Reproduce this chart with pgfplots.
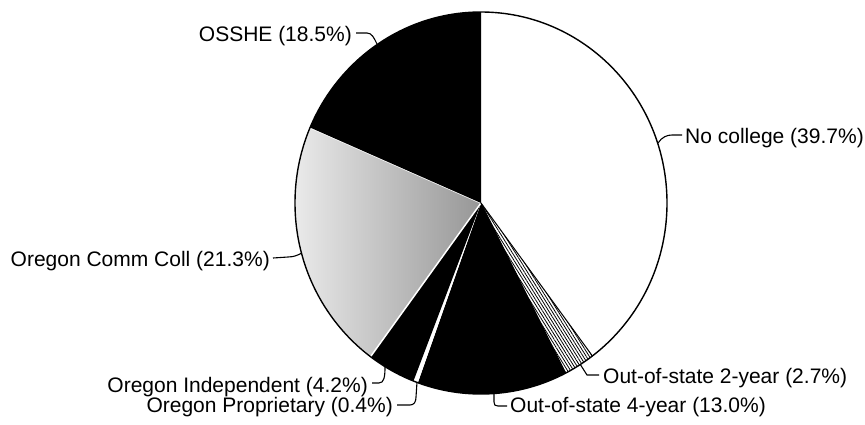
\documentclass[border=0pt]{standalone}
\usepackage{pgfplots}
\pgfplotsset{compat=1.18}
\usepackage{pgfplotstable}
\usepackage{fontspec}
\setmainfont{Liberation Sans}
\usetikzlibrary{patterns.meta}

\pgfplotstableread{
value
39.7
2.7
13.0
0.4
4.2
21.3
18.5
}\piedata

\newcommand\pieslice[3]{\path[#3] (axis cs:481,221) -- ++(#1:186pt and 191pt) arc[start angle=#1, end angle=#2, x radius=186pt, y radius=191pt] -- cycle;}

\begin{document}
\begin{tikzpicture}
\fontsize{21}{25}\selectfont
\pgfplotstablegetelem{0}{value}\of\piedata \pgfmathsetmacro\vA{\pgfplotsretval}
\pgfplotstablegetelem{1}{value}\of\piedata \pgfmathsetmacro\vB{\pgfplotsretval}
\pgfplotstablegetelem{2}{value}\of\piedata \pgfmathsetmacro\vC{\pgfplotsretval}
\pgfplotstablegetelem{3}{value}\of\piedata \pgfmathsetmacro\vD{\pgfplotsretval}
\pgfplotstablegetelem{4}{value}\of\piedata \pgfmathsetmacro\vE{\pgfplotsretval}
\pgfplotstablegetelem{5}{value}\of\piedata \pgfmathsetmacro\vF{\pgfplotsretval}
\pgfplotstablegetelem{6}{value}\of\piedata \pgfmathsetmacro\vG{\pgfplotsretval}
\pgfmathsetmacro\tot{\vA+\vB+\vC+\vD+\vE+\vF+\vG}
\pgfmathsetmacro\aA{90}
\pgfmathsetmacro\aB{\aA-360*\vA/\tot}
\pgfmathsetmacro\aC{\aB-360*\vB/\tot}
\pgfmathsetmacro\aD{\aC-360*\vC/\tot}
\pgfmathsetmacro\aE{\aD-360*\vD/\tot}
\pgfmathsetmacro\aF{\aE-360*\vE/\tot}
\pgfmathsetmacro\aG{\aF-360*\vF/\tot}
\pgfmathsetmacro\aH{\aG-360*\vG/\tot}
\begin{axis}[hide axis, scale only axis, width=865pt, height=424pt,
  xmin=0, xmax=865, ymin=0, ymax=424, clip=false, at={(0,0)}, anchor=south west]
\addplot[draw=none] coordinates {(0,0) (865,424)};
% slices
\pieslice{\aA}{\aB}{fill=white}
\pieslice{\aB}{\aC}{preaction={fill=white}, pattern={Lines[angle=-58, distance=2.6pt, line width=0.8pt]}}
\pieslice{\aC}{\aD}{fill=black}
\pieslice{\aD}{\aE}{fill=white}
\pieslice{\aE}{\aF}{fill=black}
\pieslice{\aF}{\aG}{left color=gray!10, right color=gray!82, draw=white, line width=1.5pt}
\pieslice{\aG}{\aH}{fill=black}
\draw[line width=1pt] (axis cs:481,221) -- ++(\aB:186pt and 191pt);
\draw[line width=1pt] (axis cs:481,221) -- ++(\aC:186pt and 191pt);
\draw[line width=1.4pt] (axis cs:481,221) ellipse [x radius=186pt, y radius=191pt];
% labels
\node[anchor=east, inner sep=0pt] at (axis cs:352,388) {OSSHE (18.5\%)};
\node[anchor=west, inner sep=0pt] at (axis cs:685,286) {No college (39.7\%)};
\node[anchor=east, inner sep=0pt] at (axis cs:270,163) {Oregon Comm Coll (21.3\%)};
\node[anchor=east, inner sep=0pt] at (axis cs:368,37) {Oregon Independent (4.2\%)};
\node[anchor=east, inner sep=0pt] at (axis cs:393,17) {Oregon Proprietary (0.4\%)};
\node[anchor=west, inner sep=0pt] at (axis cs:603,46) {Out-of-state 2-year (2.7\%)};
\node[anchor=west, inner sep=0pt] at (axis cs:510,17) {Out-of-state 4-year (13.0\%)};
% leaders
\draw[line width=1.1pt] (axis cs:356,391) -- (axis cs:367,391) .. controls (axis cs:372,391) and (axis cs:374,386) .. (axis cs:377,380);
\draw[line width=1.1pt] (axis cs:658,281) .. controls (axis cs:662,287) and (axis cs:667,289) .. (axis cs:672,289) -- (axis cs:682,289);
\draw[line width=1.1pt] (axis cs:273,166) -- (axis cs:288,167) .. controls (axis cs:294,167) and (axis cs:298,169) .. (axis cs:302,171);
\draw[line width=1.1pt] (axis cs:372,41) -- (axis cs:379,41) .. controls (axis cs:384,41) and (axis cs:385,47) .. (axis cs:385,57);
\draw[line width=1.1pt] (axis cs:397,19) -- (axis cs:410,19) .. controls (axis cs:414,19) and (axis cs:416,22) .. (axis cs:416,27) -- (axis cs:417,42);
\draw[line width=1.1pt] (axis cs:580,60) -- (axis cs:587,49) -- (axis cs:599,49);
\draw[line width=1.1pt] (axis cs:494,31) -- (axis cs:494,22) .. controls (axis cs:494,19) and (axis cs:495,18) .. (axis cs:498,18) -- (axis cs:507,18);
\end{axis}
\pgfresetboundingbox
\useasboundingbox (0,0) rectangle (865pt,424pt);
\end{tikzpicture}
\end{document}
